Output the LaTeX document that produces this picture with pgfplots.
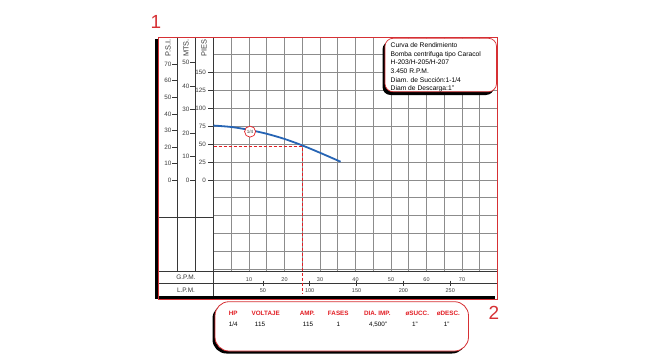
\documentclass[border=0pt]{standalone}
\usepackage{pgfplots}
\pgfplotsset{compat=1.18}
\usepackage{fontspec}
\setmainfont{Liberation Sans}
\definecolor{gridgray}{RGB}{140,140,140}
\definecolor{darkline}{RGB}{55,55,55}
\definecolor{curveblue}{RGB}{38,100,180}
\definecolor{dashred}{RGB}{226,30,36}
\definecolor{borderred}{RGB}{214,48,52}
\definecolor{ticktext}{RGB}{60,60,60}
\newcommand{\fs}[1]{\fontsize{#1}{#1}\selectfont}
\begin{document}
\begin{tikzpicture}
\path[use as bounding box] (0pt,0pt) rectangle (650pt,-361pt);
% frame lines drawn below the axis
\begin{scope}[x=1pt,y=-1pt]
  \fill[black] (154.5,39) rectangle (157.6,298.5);
  \fill[black] (154.5,296) rectangle (495,298.5);
  \draw[darkline, line width=0.8pt] (177,37)--(177,271);
  \draw[darkline, line width=0.8pt] (195,37)--(195,271);
  \draw[darkline, line width=0.9pt] (213.5,37)--(213.5,296);
  \draw[darkline, line width=0.7pt] (158,217)--(213.5,217);
  \draw[darkline, line width=0.9pt] (158,271)--(497.5,271);
  \draw[darkline, line width=0.8pt] (158,283.3)--(497.5,283.3);
  % column headers
  \node[rotate=90, anchor=east, font=\fs{7.4}, text=darkline, inner sep=0pt] at (168,39) {P.S.I.};
  \node[rotate=90, anchor=east, font=\fs{7.4}, text=darkline, inner sep=0pt] at (186,39) {MTS.};
  \node[rotate=90, anchor=east, font=\fs{7.4}, text=darkline, inner sep=0pt] at (204,39) {PIES};
  % PSI scale
  \foreach \v in {0,10,...,70}{
    \pgfmathsetmacro{\yy}{180-\v*2.31*0.716}
    \draw[darkline, line width=0.6pt] (172,\yy)--(177,\yy);
    \node[anchor=east, font=\fs{6.3}, text=ticktext, inner sep=0pt] at (171.5,\yy) {\v};
  }
  % MTS scale
  \foreach \v in {0,10,...,50}{
    \pgfmathsetmacro{\yy}{180-\v*3.281*0.716}
    \draw[darkline, line width=0.6pt] (190,\yy)--(195,\yy);
    \node[anchor=east, font=\fs{6.3}, text=ticktext, inner sep=0pt] at (189.5,\yy) {\v};
  }
  % PIES tick marks
  \foreach \v in {0,25,...,150}{
    \pgfmathsetmacro{\yy}{180-\v*0.716}
    \draw[darkline, line width=0.6pt] (208,\yy)--(213.5,\yy);
  }
  % LPM scale
  \foreach \v in {50,100,...,250}{
    \pgfmathsetmacro{\xx}{216+\v*0.937}
    \draw[darkline, line width=0.7pt] (\xx,280.5)--(\xx,286);
    \node[font=\fs{5.5}, text=ticktext, inner sep=0pt] at (\xx,290.5) {\v};
  }
  \node[font=\fs{6.5}, text=darkline, inner sep=0pt] at (186,277.5) {G.P.M.};
  \node[font=\fs{6.5}, text=darkline, inner sep=0pt] at (186,290) {L.P.M.};
\end{scope}
\begin{axis}[
  at={(213.5pt,-270.9pt)}, anchor=south west,
  scale only axis, clip=false,
  x=3.55pt, y=0.716pt,
  xmin=0, xmax=80, ymin=-127, ymax=200,
  axis line style={draw=none},
  major tick length=0pt, minor tick length=0pt,
  xtick={10,20,...,70},
  minor xtick={5,15,...,75},
  ytick={0,25,...,150},
  minor ytick={-125,-100,...,-25,175},
  grid=both,
  major grid style={gridgray, line width=0.8pt},
  minor grid style={gridgray, line width=0.8pt},
  xticklabel style={font=\fs{5.5}, text=ticktext, yshift=-3pt},
  yticklabel style={font=\fs{6.3}, text=ticktext, xshift=-4pt},
  /pgf/number format/assume math mode=true,
]
\addplot[curveblue, line width=1.8pt, smooth] coordinates {
  (0,76) (5,74) (10,70) (15,64.5) (20,57.3) (25,48.3) (30,38) (35.8,25.5)
};
\addplot[dashred, line width=1.6pt, dash pattern=on 3.2pt off 1.8pt] coordinates {
  (0,46.5) (25.1,46.5) (25.1,-158)
};
\addplot[only marks, mark=*, mark size=5.5pt,
  mark options={draw=dashred, fill=white, line width=0.7pt},
  nodes near coords={1/4},
  every node near coord/.append style={anchor=center, font=\fs{4.6}, text=ticktext, inner sep=0pt}]
  coordinates {(10.3,67.5)};
\end{axis}
\begin{scope}[x=1pt,y=-1pt]
  % red outline of region 1
  \draw[borderred, line width=0.6pt] (158,37) rectangle (497.5,299.5);
  \node[text=borderred, font=\fs{19}, inner sep=0pt] at (156,22) {1};
  \node[text=borderred, font=\fs{19}, inner sep=0pt] at (494,313) {2};
  % info box
  \fill[black, rounded corners=8pt] (382.5,41.5) rectangle (494,95);
  \filldraw[fill=white, draw=borderred, line width=0.7pt, rounded corners=8pt] (385,38.3) rectangle (496.5,91.7);
  \node[anchor=north west, align=left, font=\fontsize{6.7}{8.7}\selectfont, inner sep=0pt] at (390.5,42.3)
    {Curva de Rendimiento\\Bomba centrifuga tipo Caracol\\H-203/H-205/H-207\\3.450 R.P.M.\\Diam. de Succión:1-1/4\\Diam de Descarga:1"};
  % table box
  \fill[black, rounded corners=14pt] (212.5,304.5) rectangle (466,353.5);
  \filldraw[fill=white, draw=borderred, line width=0.8pt, rounded corners=14pt] (215,301.7) rectangle (468.5,351);
  \foreach \x/\t in {233.3/HP, 265.7/VOLTAJE, 307.3/AMP., 338.3/FASES, 377.3/DIA. IMP., 417.3/øSUCC., 448.3/øDESC.}{
    \node[text=dashred, font=\bfseries\fs{6.3}, inner sep=0pt] at (\x,313.3) {\t};
  }
  \foreach \x/\t in {233.3/1\slash 4, 260/115, 308/115, 338.3/1, 378/{4,500"}, 415/1", 446.7/1"}{
    \node[text=black, font=\fs{6.3}, inner sep=0pt] at (\x,324.3) {\t};
  }
\end{scope}
\end{tikzpicture}
\end{document}
